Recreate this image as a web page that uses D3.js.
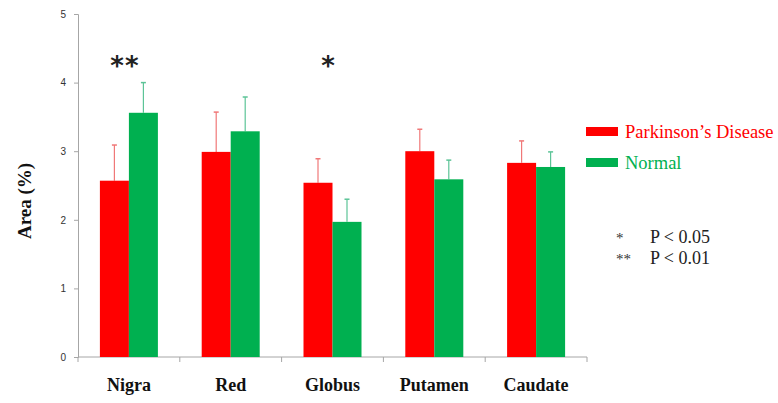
<!DOCTYPE html>
<html>
  <head>
    <meta charset="utf-8">
    <title>Area (%) by region</title>
    <script src="https://d3js.org/d3.v7.min.js"></script>
    <style>
      body { margin: 0; background: #fff; }
      .tick text { font-family: "Liberation Sans", Arial, sans-serif; font-size: 10px; fill: #333; }
      .serif { font-family: "Liberation Serif", "Times New Roman", serif; }
    </style>
  </head>
  <body>
    <svg id="svg" width="778" height="403"></svg>
    <script>
      // data
      var regions = ["Nigra", "Red", "Globus", "Putamen", "Caudate"];
      var series = ["Parkinson\u2019s Disease", "Normal"];
      var pdMean = [2.57, 2.99, 2.54, 3.00, 2.83];
      var pdErr = [0.52, 0.58, 0.35, 0.32, 0.32];
      var normalMean = [3.56, 3.29, 1.97, 2.59, 2.77];
      var normalErr = [0.44, 0.50, 0.33, 0.28, 0.22];
      var stars = ["**", "", "*", "", ""];
      var yTicks = [0, 1, 2, 3, 4, 5];
      var colors = ["#ff0000", "#00b050"];
      var errColors = ["#f07878", "#5cc497"];

      var svg = d3.select("#svg");
      var plotL = 78, plotR = 587, plotT = 14, plotB = 357;

      var x = d3.scaleBand().domain(regions).range([plotL, plotR]).paddingInner(0).paddingOuter(0);
      var inner = d3.scaleBand().domain([0, 1]).range([0, 58]);
      var y = d3.scaleLinear().domain([0, 5]).range([plotB, plotT]);

      // y axis
      var yAxis = svg.append("g")
        .attr("transform", "translate(" + plotL + ",0)")
        .call(d3.axisLeft(y).tickValues(yTicks).tickFormat(d3.format("d")).tickSize(4).tickPadding(8));
      yAxis.selectAll("line, path").attr("stroke", "#a6a6a6");

      // x axis (ticks between categories)
      var xAxis = svg.append("g").attr("transform", "translate(0," + plotB + ")");
      xAxis.append("line").attr("x1", plotL).attr("x2", plotR).attr("stroke", "#a6a6a6");
      xAxis.selectAll(".xt")
          .data(regions.concat(["end"]))
        .enter().append("line")
          .attr("x1", function(d, i) { return plotL + i * x.bandwidth(); })
          .attr("x2", function(d, i) { return plotL + i * x.bandwidth(); })
          .attr("y1", 0).attr("y2", 5)
          .attr("stroke", "#a6a6a6");

      var rows = regions.map(function(r, i) {
        return { region: r, vals: [pdMean[i], normalMean[i]], errs: [pdErr[i], normalErr[i]], star: stars[i] };
      });

      var groups = svg.selectAll(".grp")
          .data(rows)
        .enter().append("g")
          .attr("transform", function(d) { return "translate(" + (x(d.region) + (x.bandwidth() - 58) / 2) + ",0)"; });

      // error bars, then bars
      [0, 1].forEach(function(s) {
        var cx = inner(s) + inner.bandwidth() / 2;
        groups.append("line")
          .attr("x1", cx).attr("x2", cx)
          .attr("y1", function(d) { return y(d.vals[s]); })
          .attr("y2", function(d) { return y(d.vals[s] + d.errs[s]); })
          .attr("stroke", errColors[s]).attr("stroke-width", 1.2);
        groups.append("line")
          .attr("x1", cx - 2.5).attr("x2", cx + 2.5)
          .attr("y1", function(d) { return y(d.vals[s] + d.errs[s]); })
          .attr("y2", function(d) { return y(d.vals[s] + d.errs[s]); })
          .attr("stroke", errColors[s]).attr("stroke-width", 1.5);
        groups.append("rect")
          .attr("x", inner(s))
          .attr("width", inner.bandwidth())
          .attr("y", function(d) { return y(d.vals[s]); })
          .attr("height", function(d) { return plotB - y(d.vals[s]); })
          .attr("fill", colors[s]);
      });

      // significance stars
      groups.append("text")
        .attr("x", 58 / 2 - 4)
        .attr("y", 75)
        .attr("text-anchor", "middle")
        .style("font-family", "'DejaVu Sans', sans-serif")
        .style("font-size", "26px")
        .style("font-weight", "bold")
        .style("letter-spacing", "1px")
        .attr("fill", "#222")
        .text(function(d) { return d.star; });

      // category labels
      svg.selectAll(".cat")
          .data(regions)
        .enter().append("text")
          .attr("class", "serif")
          .attr("x", function(d) { return x(d) + x.bandwidth() / 2; })
          .attr("y", 391)
          .attr("text-anchor", "middle")
          .style("font-size", "18px").style("font-weight", "bold")
          .attr("fill", "#111")
          .text(function(d) { return d; });

      // y label
      svg.append("text")
        .attr("class", "serif")
        .attr("transform", "translate(31,201) rotate(-90)")
        .attr("text-anchor", "middle")
        .style("font-size", "19px").style("font-weight", "bold")
        .attr("fill", "#111")
        .text("Area (%)");

      // legend
      var legend = svg.append("g").attr("transform", "translate(586,127)");
      series.forEach(function(s, i) {
        legend.append("rect").attr("x", 0).attr("y", i * 31).attr("width", 32).attr("height", 9).attr("fill", colors[i]);
        legend.append("text").attr("class", "serif")
          .attr("x", 39).attr("y", i * 31 + 11)
          .style("font-size", "18.5px")
          .attr("fill", colors[i])
          .text(s);
      });

      // p-value notes
      var notes = [["*", "P < 0.05"], ["**", "P < 0.01"]];
      var pg = svg.append("g").attr("transform", "translate(616,243)");
      notes.forEach(function(n, i) {
        pg.append("text").attr("class", "serif").attr("x", 0).attr("y", i * 21)
          .style("font-size", "15px").attr("fill", "#333").text(n[0]);
        pg.append("text").attr("class", "serif").attr("x", 34).attr("y", i * 21)
          .style("font-size", "18px").attr("fill", "#222").text(n[1]);
      });
    </script>
  </body>
</html>
